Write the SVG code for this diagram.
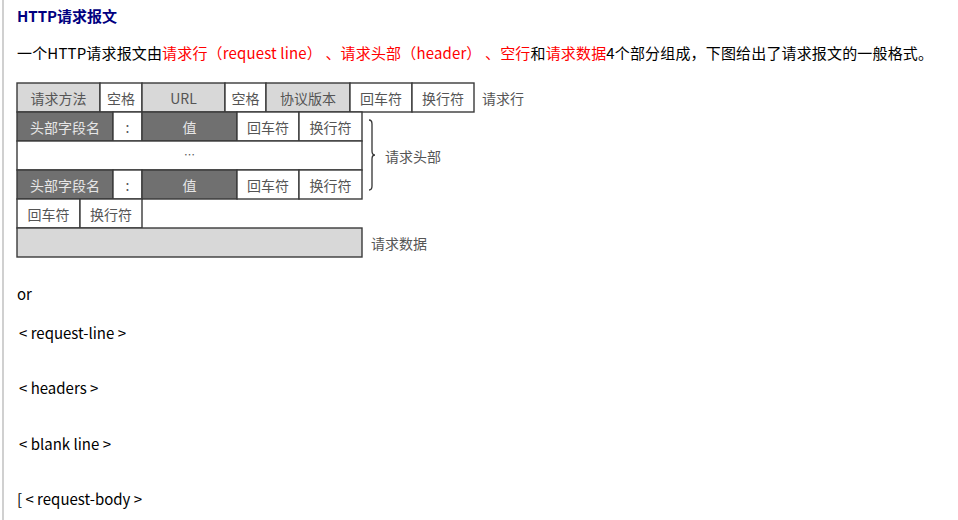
<svg xmlns="http://www.w3.org/2000/svg" width="958" height="520" viewBox="0 0 958 520">
<style>
.body{font-family:"Noto Sans CJK SC","Noto Sans",sans-serif;font-size:15px;fill:#000}
.red{fill:#ff0000}
.title{font-family:"Noto Sans CJK SC","Noto Sans",sans-serif;font-size:15px;font-weight:bold;fill:#000080}
.cell{stroke:#3a3a3a;stroke-width:1.4}
.lg{fill:#d8d8d8}
.dk{fill:#707070}
.wt{fill:#ffffff}
.ct{font-family:"Noto Sans CJK SC",serif;font-size:14px;fill:#555;text-anchor:middle;dominant-baseline:central}
.ctd{font-family:"Noto Sans CJK SC",serif;font-size:14px;fill:#e6e6e6;text-anchor:middle;dominant-baseline:central}
.lbl{font-family:"Noto Sans CJK SC",serif;font-size:14px;fill:#555;dominant-baseline:central}
</style>
<rect x="0" y="0" width="958" height="520" fill="#ffffff"/>
<line x1="3" y1="0" x2="3" y2="520" stroke="#d0d0d0" stroke-width="2"/>
<text class="title" x="17" y="22">HTTP请求报文</text>
<text class="body" x="17" y="59" textLength="916" lengthAdjust="spacing">一个HTTP请求报文由<tspan class="red">请求行（request line） 、请求头部（header） 、空行</tspan>和<tspan class="red">请求数据</tspan>4个部分组成，下图给出了请求报文的一般格式。</text>

<g id="row-request-line">
<rect class="cell lg" x="17" y="83" width="83" height="29"/><text class="ct" x="58.5" y="98">请求方法</text>
<rect class="cell wt" x="100" y="83" width="42" height="29"/><text class="ct" x="121" y="98">空格</text>
<rect class="cell lg" x="142" y="83" width="83" height="29"/><text class="ct" x="183.5" y="98">URL</text>
<rect class="cell wt" x="225" y="83" width="41" height="29"/><text class="ct" x="245.5" y="98">空格</text>
<rect class="cell lg" x="266" y="83" width="84" height="29"/><text class="ct" x="308" y="98">协议版本</text>
<rect class="cell wt" x="350" y="83" width="62" height="29"/><text class="ct" x="381" y="98">回车符</text>
<rect class="cell wt" x="412" y="83" width="62" height="29"/><text class="ct" x="443" y="98">换行符</text>
<text class="lbl" x="482" y="98">请求行</text>
</g>

<g id="row-header-1">
<rect class="cell dk" x="17" y="112" width="96" height="29"/><text class="ctd" x="65" y="127">头部字段名</text>
<rect class="cell wt" x="113" y="112" width="29" height="29"/><text class="ct" x="127.5" y="127">:</text>
<rect class="cell dk" x="142" y="112" width="95" height="29"/><text class="ctd" x="189.5" y="127">值</text>
<rect class="cell wt" x="237" y="112" width="62" height="29"/><text class="ct" x="268" y="127">回车符</text>
<rect class="cell wt" x="299" y="112" width="63" height="29"/><text class="ct" x="330.5" y="127">换行符</text>
</g>

<g id="row-ellipsis">
<rect class="cell wt" x="17" y="141" width="345" height="29"/><text class="ct" x="189.5" y="154" style="font-size:11px">…</text>
</g>

<g id="row-header-2">
<rect class="cell dk" x="17" y="170" width="96" height="29"/><text class="ctd" x="65" y="185">头部字段名</text>
<rect class="cell wt" x="113" y="170" width="29" height="29"/><text class="ct" x="127.5" y="185">:</text>
<rect class="cell dk" x="142" y="170" width="95" height="29"/><text class="ctd" x="189.5" y="185">值</text>
<rect class="cell wt" x="237" y="170" width="62" height="29"/><text class="ct" x="268" y="185">回车符</text>
<rect class="cell wt" x="299" y="170" width="63" height="29"/><text class="ct" x="330.5" y="185">换行符</text>
</g>

<g id="headers-label">
<path d="M369,120 Q372,120 372,124 L372,151 Q372,155 375,155 Q372,155 372,159 L372,186 Q372,190 369,190" fill="none" stroke="#333" stroke-width="1.3"/>
<text class="lbl" x="385" y="155.5">请求头部</text>
</g>

<g id="row-blank-line">
<rect class="cell wt" x="17" y="199" width="63" height="29"/><text class="ct" x="48.5" y="214">回车符</text>
<rect class="cell wt" x="80" y="199" width="62" height="29"/><text class="ct" x="111" y="214">换行符</text>
</g>

<g id="row-body">
<rect class="cell lg" x="17" y="228" width="345" height="29"/>
<text class="lbl" x="371" y="242.5">请求数据</text>
</g>

<text class="body" x="17" y="300">or</text>
<text class="body" x="19" y="339">&lt; request-line &gt;</text>
<text class="body" x="19" y="394">&lt; headers &gt;</text>
<text class="body" x="19" y="450">&lt; blank line &gt;</text>
<text class="body" x="17" y="505">[ &lt; request-body &gt;</text>
</svg>
